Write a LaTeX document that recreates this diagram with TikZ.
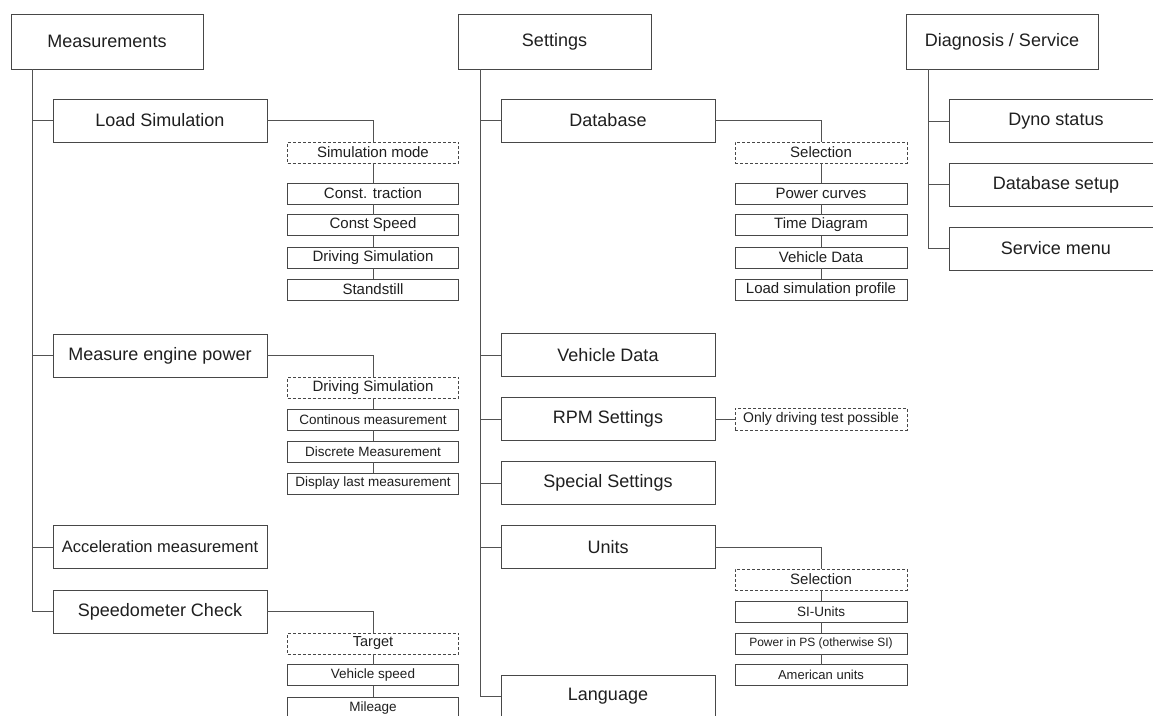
\documentclass[tikz,border=0pt]{standalone}
\usepackage{fontspec}
\setmainfont{Liberation Sans}
\begin{document}
\begin{tikzpicture}[x=1pt,y=-1pt,
  line width=1pt,
  every node/.style={inner sep=0pt,outer sep=0pt,text=black!88},
  topbox/.style={draw=black!72,rectangle,minimum width=192pt,minimum height=55pt,font=\fontsize{18}{20}\selectfont},
  lvlbox/.style={draw=black!72,rectangle,minimum width=214pt,minimum height=43pt,font=\fontsize{18}{20}\selectfont},
  subbox/.style={draw=black!72,rectangle,minimum width=171pt,minimum height=21pt,font=\fontsize{15}{17}\selectfont},
  dashbox/.style={subbox,dashed,dash pattern=on 3pt off 2pt},
  link/.style={draw=black!68,line width=1pt}]
\useasboundingbox (0,0) rectangle (1153,715);
\clip (0,0) rectangle (1153,715);
\fill[white] (0,0) rectangle (1153,715);

% ---------- Measurements ----------
\node[topbox] (meas) at (107,41.5) {Measurements};
\node[lvlbox] (load) at (160,120.5) {Load Simulation};
\node[lvlbox] (engine) at (160,355.5) {Measure engine power};
\node[lvlbox,font=\fontsize{16.5}{18}\selectfont] (accel) at (160,547) {Acceleration measurement};
\node[lvlbox] (speedo) at (160,611.5) {Speedometer Check};

\node[dashbox] (simmode) at (373,152.5) {Simulation mode};
\node[subbox] (ctrac) at (373,193.5) {Const. traction};
\node[subbox] (cspeed) at (373,225) {Const Speed};
\node[subbox] (drsim) at (373,257.5) {Driving Simulation};
\node[subbox] (stand) at (373,289.5) {Standstill};

\node[dashbox] (drsim2) at (373,387.5) {Driving Simulation};
\node[subbox,font=\fontsize{13.5}{15}\selectfont] (cont) at (373,419.5) {Continous measurement};
\node[subbox,font=\fontsize{13.5}{15}\selectfont] (disc) at (373,451.5) {Discrete Measurement};
\node[subbox,font=\fontsize{13.5}{15}\selectfont] (disp) at (373,483.5) {Display last measurement};

\node[dashbox,font=\fontsize{14.5}{16}\selectfont] (target) at (373,643.5) {Target};
\node[subbox,font=\fontsize{13.5}{15}\selectfont] (vspeed) at (373,675) {Vehicle speed};
\node[subbox,font=\fontsize{13.5}{15}\selectfont] (mile) at (373,707.5) {Mileage};

\coordinate (mtrunk) at (32,69);
\draw[link] (meas.south -| mtrunk) |- (speedo.west);
\draw[link] (mtrunk |- load.west) -- (load.west);
\draw[link] (mtrunk |- engine.west) -- (engine.west);
\draw[link] (mtrunk |- accel.west) -- (accel.west);

\draw[link] (load.east) -| (simmode.north);
\draw[link] (simmode.south) -- (ctrac.north);
\draw[link] (ctrac.south) -- (cspeed.north);
\draw[link] (cspeed.south) -- (drsim.north);
\draw[link] (drsim.south) -- (stand.north);

\draw[link] (engine.east) -| (drsim2.north);
\draw[link] (drsim2.south) -- (cont.north);
\draw[link] (cont.south) -- (disc.north);
\draw[link] (disc.south) -- (disp.north);

\draw[link] (speedo.east) -| (target.north);
\draw[link] (target.south) -- (vspeed.north);
\draw[link] (vspeed.south) -- (mile.north);

% ---------- Settings ----------
\node[topbox,minimum width=193pt] (sett) at (554.5,41.5) {Settings};
\node[lvlbox] (db) at (608,120.5) {Database};
\node[lvlbox] (vdata) at (608,355) {Vehicle Data};
\node[lvlbox] (rpm) at (608,419) {RPM Settings};
\node[lvlbox] (special) at (608,483) {Special Settings};
\node[lvlbox] (units) at (608,547) {Units};
\node[lvlbox] (lang) at (608,696.5) {Language};

\node[dashbox,minimum width=172pt] (sel1) at (821,152.5) {Selection};
\node[subbox,minimum width=172pt] (pcurves) at (821,193.5) {Power curves};
\node[subbox,minimum width=172pt] (tdiag) at (821,225) {Time Diagram};
\node[subbox,minimum width=172pt] (vdata2) at (821,257.5) {Vehicle Data};
\node[subbox,minimum width=172pt] (lsprof) at (821,289.5) {Load simulation profile};

\node[dashbox,minimum width=172pt,minimum height=22pt,font=\fontsize{14}{16}\selectfont] (onlyd) at (821,419) {Only driving test possible};

\node[dashbox,minimum width=172pt] (sel2) at (821,579.5) {Selection};
\node[subbox,minimum width=172pt,font=\fontsize{13.5}{15}\selectfont] (siu) at (821,611.5) {SI-Units};
\node[subbox,minimum width=172pt,font=\fontsize{12}{14}\selectfont] (pps) at (821,643.5) {Power in PS (otherwise SI)};
\node[subbox,minimum width=172pt,font=\fontsize{13}{15}\selectfont] (amu) at (821,675) {American units};

\coordinate (strunk) at (480,69);
\draw[link] (sett.south -| strunk) |- (lang.west);
\draw[link] (strunk |- db.west) -- (db.west);
\draw[link] (strunk |- vdata.west) -- (vdata.west);
\draw[link] (strunk |- rpm.west) -- (rpm.west);
\draw[link] (strunk |- special.west) -- (special.west);
\draw[link] (strunk |- units.west) -- (units.west);

\draw[link] (db.east) -| (sel1.north);
\draw[link] (sel1.south) -- (pcurves.north);
\draw[link] (pcurves.south) -- (tdiag.north);
\draw[link] (tdiag.south) -- (vdata2.north);
\draw[link] (vdata2.south) -- (lsprof.north);

\draw[link] (rpm.east) -- (onlyd.west);

\draw[link] (units.east) -| (sel2.north);
\draw[link] (sel2.south) -- (siu.north);
\draw[link] (siu.south) -- (pps.north);
\draw[link] (pps.south) -- (amu.north);

% ---------- Diagnosis / Service ----------
\node[topbox] (diag) at (1002,41.5) {Diagnosis / Service};
\node[lvlbox] (dyno) at (1056,121) {Dyno status};
\node[lvlbox] (dbset) at (1056,184.5) {Database setup};
\node[lvlbox] (servm) at (1056,248.5) {Service menu};

\coordinate (dtrunk) at (928,69);
\draw[link] (diag.south -| dtrunk) |- (servm.west);
\draw[link] (dtrunk |- dyno.west) -- (dyno.west);
\draw[link] (dtrunk |- dbset.west) -- (dbset.west);
\end{tikzpicture}
\end{document}
